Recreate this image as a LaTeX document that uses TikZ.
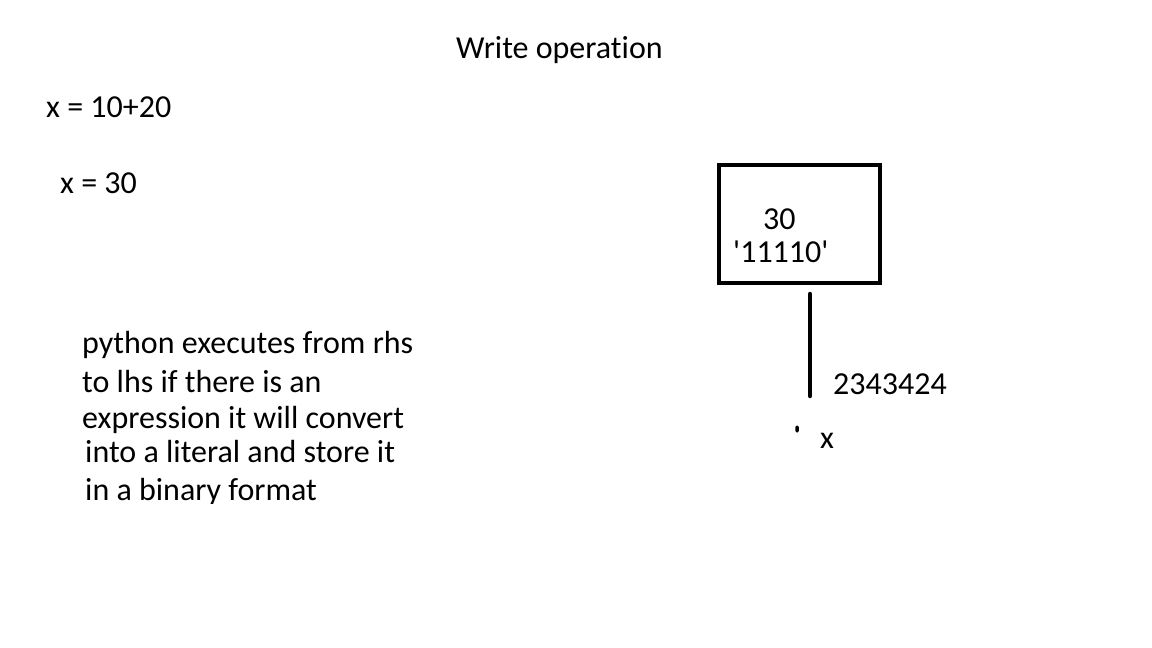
\documentclass[tikz,border=0pt]{standalone}
\usepackage{fontspec}
\setmainfont{Carlito}[Ligatures={TeXOff,NoCommon}]
\usetikzlibrary{positioning}

\begin{document}
\begin{tikzpicture}[x=1pt, y=-1pt,
    txt/.style={anchor=base west, inner sep=0pt, font=\fontsize{32}{38}\selectfont},
    cell/.style={draw, line width=4pt, minimum width=161pt, minimum height=118pt, inner sep=0pt},
    ptr/.style={line width=4.5pt, line cap=round}]
    \useasboundingbox (0,0) rectangle (1152,648);

    \node[txt] (title) at (456,58) {Write operation};
    \node[txt] (expr) at (46,117) {x = 10+20};
    \node[txt] (res) at (60,193) {x = 30};

    % memory cell
    \node[cell] (mem) at (799.5,224) {};
    \node[txt] (val) at (763,229) {30};
    \node[txt] (bin) at (733,262) {'11110'};

    \coordinate (ptop) at (810,294);
    \coordinate (pbot) at (810,396);
    \draw[ptr] (ptop) -- (pbot);
    \node[txt] (addr) at (833,394) {2343424};
    \node[fill, minimum width=3.5pt, minimum height=7pt, inner sep=0pt, rounded corners=1.5pt] (xdot) at (797,429) {};
    \node[txt] (name) at (820,448) {x};

    % explanation
    \node[txt] (l1) at (82,353) {python executes from rhs};
    \node[txt] (l2) at (82,392) {to lhs if there is an};
    \begin{scope}
        \clip (0,0) rectangle (1152,433);
        \node[txt] (l3) at (82,428) {expression it will convert};
    \end{scope}
    \node[txt] (l4) at (85,462) {into a literal and store it};
    \begin{scope}
        \clip (0,0) rectangle (1152,503);
        \node[txt] (l5) at (85,500) {in a binary format};
    \end{scope}
\end{tikzpicture}
\end{document}
